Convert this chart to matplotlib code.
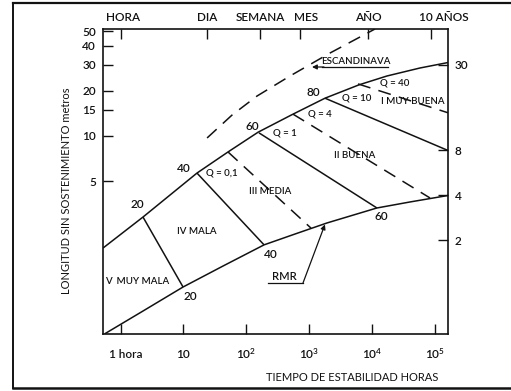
import matplotlib
matplotlib.use("Agg")
import matplotlib.pyplot as plt
from matplotlib.ticker import NullLocator
from matplotlib.lines import Line2D
import matplotlib.transforms as mtransforms

plt.rcParams['font.family'] = ['Lato', 'DejaVu Sans']
plt.rcParams['font.weight'] = 'semibold'
plt.rcParams['mathtext.default'] = 'regular'

# ---------------- data (hours, metres) ----------------
upper_t = [0.526, 2.28, 16.5, 51.5, 155, 558, 1804, 6300, 17500, 58700, 164000]
upper_L = [1.78, 2.87, 5.65, 7.82, 10.6, 14.0, 17.9, 22.0, 25.2, 28.5, 31.0]

lower_t = [0.56, 2.28, 9.9, 42.9, 193, 601, 1941, 12100, 40700, 164000]
lower_L = [0.475, 0.675, 0.977, 1.35, 1.87, 2.21, 2.62, 3.30, 3.62, 4.0]

scand_t = [23.9, 59.6, 149, 500, 2170, 11300]
scand_L = [9.7, 13.8, 18.5, 25.2, 35.9, 52.0]

rmr20_t, rmr20_L = [2.28, 9.9], [2.87, 0.977]
rmr40_t, rmr40_L = [16.5, 193], [5.65, 1.87]
q01_t, q01_L = [51.5, 1080], [7.82, 2.42]
rmr60_t, rmr60_L = [160, 12100], [10.5, 3.30]
q4_t, q4_L = [558, 84800], [14.0, 3.85]
rmr80_t, rmr80_L = [1804, 164000], [17.9, 8.0]
q40_t, q40_L = [6050, 164000], [22.3, 14.3]

bottom_ticks = [1, 10, 100, 1000, 10000, 100000]
bottom_labels = ["1 hora", "10", r"$10^2$", r"$10^3$", r"$10^4$", r"$10^5$"]
top_ticks = [1, 24, 168, 720, 8760, 87600]
top_labels = ["HORA", "DIA", "SEMANA", "MES", "AÑO", "10 AÑOS"]
left_ticks = [50, 40, 30, 20, 15, 10, 5]
right_ticks = [30, 8, 4, 2]

# ---------------- figure ----------------
W, H = 511, 391
fig = plt.figure(figsize=(W / 100, H / 100), dpi=100)
AX_L, AX_R, AX_T, AX_B = 103, 448, 29, 334
ax = fig.add_axes([AX_L / W, 1 - AX_B / H, (AX_R - AX_L) / W, (AX_B - AX_T) / H])
ax.set_xscale('log')
ax.set_yscale('log')
ax.set_xlim(0.526, 164000)
ax.set_ylim(0.4738, 51.96)

def px(x, y):
    return ((x - AX_L) / (AX_R - AX_L), (AX_B - y) / (AX_B - AX_T))

K = '#121212'
LW = 1.1
solid = dict(color=K, lw=LW, solid_capstyle='butt')
dashed = dict(color=K, lw=LW, linestyle=(0, (8.5, 5.5)))

ax.plot(upper_t, upper_L, **solid)
ax.plot(lower_t, lower_L, **solid)
ax.plot(rmr20_t, rmr20_L, **solid)
ax.plot(rmr40_t, rmr40_L, **solid)
ax.plot(rmr60_t, rmr60_L, **solid)
ax.plot(rmr80_t, rmr80_L, **solid)
ax.plot(q01_t, q01_L, **dashed)
ax.plot(q4_t, q4_L, **dashed)
ax.plot(q40_t, q40_L, **dashed)
ax.plot(scand_t, scand_L, **dashed)

# ticks
for a in ['top', 'right', 'left', 'bottom']:
    ax.spines[a].set_linewidth(1.2)
    ax.spines[a].set_color(K)
ax.xaxis.set_minor_locator(NullLocator())
ax.yaxis.set_minor_locator(NullLocator())
ax.set_xticks(bottom_ticks, labels=bottom_labels)
ax.set_yticks(left_ticks, labels=[str(v) for v in left_ticks])
ax.tick_params(axis='both', which='major', direction='in', length=7, width=1.0,
               labelsize=8.5, colors=K)
ax.tick_params(axis='x', pad=11)
ax.tick_params(axis='y', pad=5)

def shift(lab, dx, dy):
    lab.set_transform(lab.get_transform() +
                      mtransforms.ScaledTranslation(dx / 100, dy / 100, fig.dpi_scale_trans))

for lab in ax.get_xticklabels():
    s = lab.get_text()
    if s == "1 hora":
        shift(lab, 5, 0)
    elif s.startswith("$"):
        shift(lab, 0, 3)

secx = ax.secondary_xaxis('top')
secx.set_xticks(top_ticks, labels=top_labels)
secx.xaxis.set_minor_locator(NullLocator())
secx.tick_params(direction='in', length=7, width=1.0, labelsize=8.5, pad=4, colors=K)
secx.spines['top'].set_visible(False)
offs = {"MES": 6, "10 AÑOS": 13, "HORA": 3}
for lab in secx.get_xticklabels():
    d = offs.get(lab.get_text(), 0)
    if d:
        shift(lab, d, 0)

secy = ax.secondary_yaxis('right')
secy.set_yticks(right_ticks, labels=[str(v) for v in right_ticks])
secy.yaxis.set_minor_locator(NullLocator())
secy.tick_params(direction='in', length=7, width=1.0, labelsize=8.5, pad=5, colors=K)
secy.spines['right'].set_visible(False)

ax.set_xlabel("TIEMPO DE ESTABILIDAD HORAS", fontsize=8, color=K)
ax.xaxis.set_label_coords(*px(352, 372))
ax.set_ylabel("LONGITUD SIN SOSTENIMIENTO metros", fontsize=8, color=K)
ax.yaxis.set_label_coords(*px(72, 191))

# ---------------- labels ----------------
def t(x, y, s, fs=8.5, **kw):
    ax.text(*px(x, y), s, transform=ax.transAxes, ha='center', va='center',
            fontsize=fs, color=K, **kw)

# RMR values on curves
t(137, 205, "20"); t(184, 168, "40"); t(252, 126, "60"); t(313, 92, "80")
t(190, 296, "20"); t(271, 255, "40"); t(381, 217, "60")

# classes
t(137, 281, "V  MUY MALA", fs=7)
t(197, 231, "IV MALA", fs=7)
t(270, 191, "III MEDIA", fs=7)
t(355, 156, "II BUENA", fs=7)
t(413, 102, "I MUY BUENA", fs=7)

# Q values
t(222, 173, "Q = 0,1", fs=7)
t(285, 133, "Q = 1", fs=7)
t(320, 114, "Q = 4", fs=7)
t(357, 98, "Q = 10", fs=7)
t(395, 83, "Q = 40", fs=7)

# ESCANDINAVA
t(356, 61, "ESCANDINAVA", fs=7)
ax.plot(*zip(px(322, 67), px(388, 67)), transform=ax.transAxes, color=K, lw=0.9)
ax.annotate('', xy=px(312, 67), xytext=px(324, 67), xycoords='axes fraction',
            textcoords='axes fraction',
            arrowprops=dict(arrowstyle='-|>', color=K, lw=0.9, mutation_scale=7,
                            shrinkA=0, shrinkB=0))

# RMR arrow
t(284, 276, "RMR", fs=8)
ax.plot(*zip(px(268, 283), px(303, 283)), transform=ax.transAxes, color=K, lw=0.9)
ax.annotate('', xy=(1800, 2.56), xytext=px(303, 283), xycoords='data',
            textcoords='axes fraction',
            arrowprops=dict(arrowstyle='-|>', color=K, lw=0.9, mutation_scale=7,
                            shrinkA=0, shrinkB=0))

# outer frame of the scanned figure
for (x0, y0, x1, y1, lw) in [(13, 3, 520, 3, 1.6), (13, 3, 13, 388, 1.4),
                             (13, 388, 520, 388, 1.8)]:
    fig.add_artist(Line2D([x0 / W, x1 / W], [1 - y0 / H, 1 - y1 / H],
                          transform=fig.transFigure, color=K, lw=lw))

fig.savefig("out.png", dpi=100, facecolor='white')
